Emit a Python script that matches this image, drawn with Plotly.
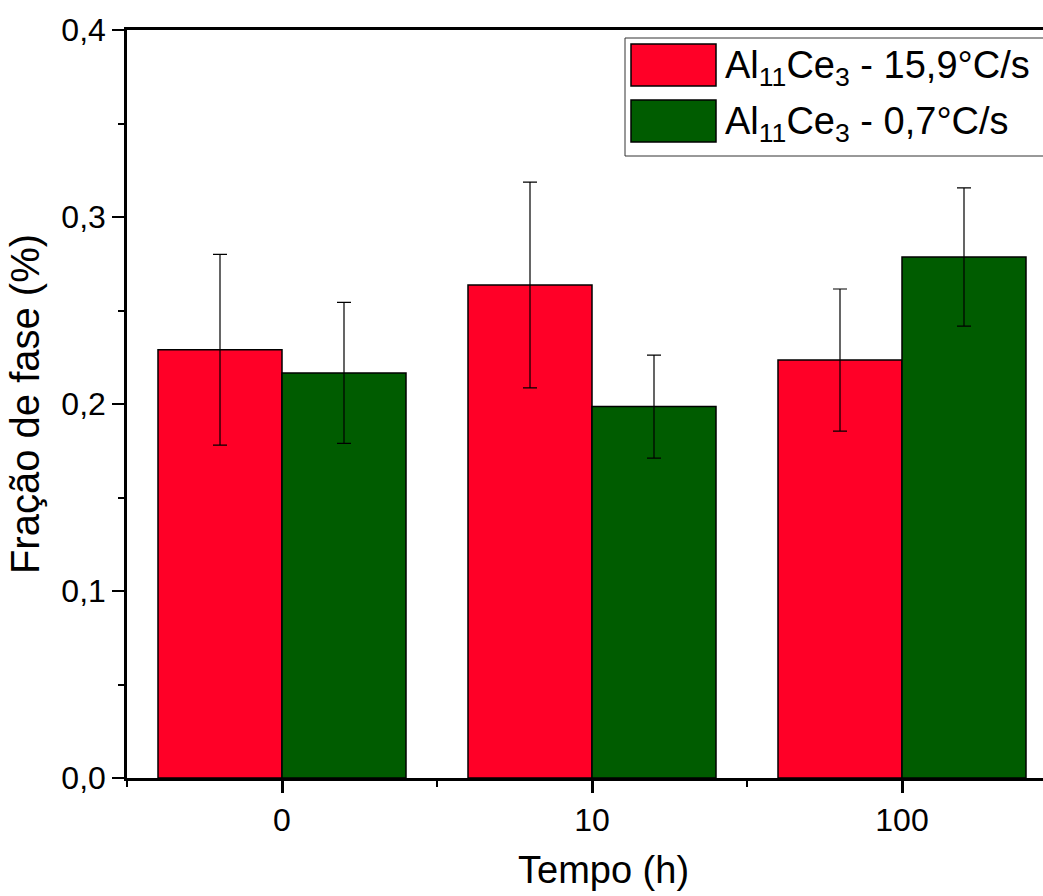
import plotly.graph_objects as go

categories = ["0", "10", "100"]
series_names = ["Al<sub>11</sub>Ce<sub>3</sub> - 15,9°C/s", "Al<sub>11</sub>Ce<sub>3</sub> - 0,7°C/s"]
fast_values = [0.229, 0.2636, 0.2235]
fast_errors = [0.051, 0.055, 0.038]
slow_values = [0.2166, 0.1986, 0.2786]
slow_errors = [0.0377, 0.0275, 0.037]
colors = ["#FF0027", "#005C00"]
x_title = "Tempo (h)"
y_title = "Fração de fase (%)"

FONT = "Liberation Sans, Arial, sans-serif"
xpos = list(range(len(categories)))

fig = go.Figure()
for name, vals, errs, col in [(series_names[0], fast_values, fast_errors, colors[0]),
                              (series_names[1], slow_values, slow_errors, colors[1])]:
    fig.add_trace(go.Bar(
        x=xpos, y=vals, name=name,
        marker=dict(color=col, line=dict(color="black", width=1.5)),
        error_y=dict(type="data", array=errs, color="black", thickness=1.2, width=7),
        showlegend=False,
    ))

fig.update_layout(
    width=1043, height=896,
    margin=dict(l=127, r=0, t=30, b=118),
    paper_bgcolor="white", plot_bgcolor="white",
    barmode="group", bargap=0.2, bargroupgap=0,
    separators=",.",
    font=dict(family=FONT, color="black"),
)
fig.update_xaxes(
    range=[-0.5, -0.5 + 916 / 310],
    tickmode="array", tickvals=xpos, ticktext=categories,
    ticks="outside", ticklen=12, tickwidth=2.5, tickcolor="black",
    minor=dict(ticks="outside", ticklen=6, tickwidth=2, tickcolor="black", tick0=-0.5, dtick=1),
    showline=True, linecolor="black", linewidth=2.5, mirror=True,
    showgrid=False, zeroline=False,
    tickfont=dict(size=32, family=FONT),
)
fig.update_yaxes(
    range=[0, 0.4], dtick=0.1, tickformat=".1f",
    ticks="outside", ticklen=12, tickwidth=2, tickcolor="black",
    minor=dict(ticks="outside", ticklen=6, tickwidth=2, tickcolor="black", dtick=0.05),
    showline=True, linecolor="black", linewidth=2.5,
    showgrid=False, zeroline=False,
    tickfont=dict(size=32, family=FONT),
    title=dict(text=y_title, font=dict(size=40, family=FONT), standoff=10),
)

def px_x(p):
    return (p - 127) / 916

def px_y(p):
    return (778 - p) / 748

# x-axis title (the reference's plot area runs past the right edge, so it is off-centre)
fig.add_annotation(xref="paper", yref="paper", x=px_x(603), y=px_y(870),
                   xanchor="center", yanchor="middle", text=x_title, showarrow=False,
                   font=dict(size=38, family=FONT, color="black"))

# custom legend
fig.add_shape(type="rect", xref="paper", yref="paper",
              x0=px_x(625), x1=1.02, y0=px_y(156), y1=px_y(38),
              line=dict(color="#333333", width=1), fillcolor="white", layer="above")
for i, (name, col) in enumerate(zip(series_names, colors)):
    top = 44 + i * 56
    fig.add_shape(type="rect", xref="paper", yref="paper",
                  x0=px_x(631), x1=px_x(716), y0=px_y(top + 42), y1=px_y(top),
                  line=dict(color="black", width=1.5), fillcolor=col, layer="above")
    fig.add_annotation(xref="paper", yref="paper", x=px_x(723), y=px_y(top + 24),
                       xanchor="left", yanchor="middle", text=name, showarrow=False,
                       font=dict(size=38, family=FONT, color="black"))

fig.write_html("out.html")
